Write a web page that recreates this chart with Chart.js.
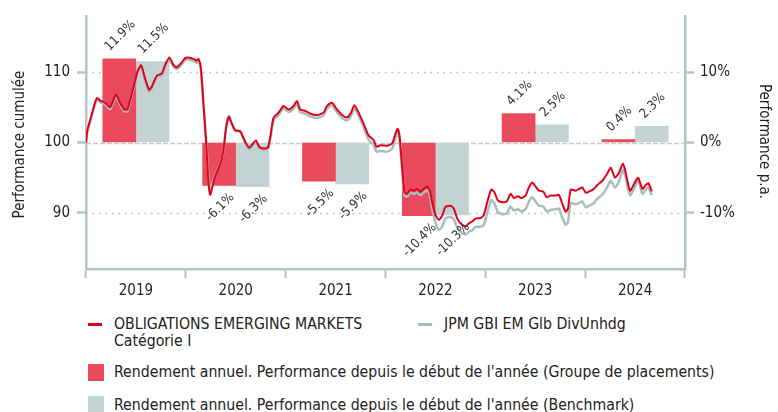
<!DOCTYPE html>
<html>
<head>
<meta charset="utf-8">
<script src="https://cdn.jsdelivr.net/npm/chart.js@4.4.0/dist/chart.umd.min.js"></script>
<style>
  body { margin: 0; background: #fff; font-family: "DejaVu Sans Condensed", "DejaVu Sans", sans-serif; color: #222; }
  #wrap { position: relative; width: 778px; height: 412px; }
  #chart { position: absolute; left: 0; top: 0; }
  .lg { position: absolute; font-size: 15.7px; line-height: 17px; white-space: nowrap; }
  .mk { position: absolute; }
</style>
</head>
<body>
<div id="wrap">
  <canvas id="chart" width="778" height="300"></canvas>

  <div class="mk" style="left:88px;top:323px;width:14px;height:2.5px;background:#e2001a"></div>
  <div class="lg" style="left:114px;top:315px">OBLIGATIONS EMERGING MARKETS<br>Catégorie I</div>
  <div class="mk" style="left:418px;top:323px;width:14px;height:2.5px;background:#a9bdbd"></div>
  <div class="lg" style="left:444px;top:315px">JPM GBI EM Glb DivUnhdg</div>

  <div class="mk" style="left:88px;top:364px;width:16px;height:17px;background:#e94b5c"></div>
  <div class="lg" style="left:114px;top:363px">Rendement annuel. Performance depuis le début de l'année (Groupe de placements)</div>
  <div class="mk" style="left:88px;top:396px;width:16px;height:16px;background:#c3d2d2"></div>
  <div class="lg" style="left:114px;top:396px">Rendement annuel. Performance depuis le début de l'année (Benchmark)</div>
</div>

<script>
// yearly bars (right axis, %)
const years = ['2019', '2020', '2021', '2022', '2023', '2024'];
const fondsYear = [11.9, -6.1, -5.5, -10.4, 4.1, 0.4];
const benchYear = [11.5, -6.3, -5.9, -10.3, 2.5, 2.3];

// cumulated performance (left axis), dates as decimal years
const dates = [
  2019.000, 2019.013, 2019.040, 2019.090, 2019.113, 2019.140, 2019.191, 2019.241, 2019.301, 2019.341,
  2019.384, 2019.414, 2019.474, 2019.515, 2019.552, 2019.592, 2019.632, 2019.659, 2019.709, 2019.759,
  2019.792, 2019.835, 2019.876, 2019.910, 2019.960, 2019.993, 2020.026, 2020.076, 2020.110, 2020.126,
  2020.150, 2020.177, 2020.204, 2020.227, 2020.244, 2020.261, 2020.294, 2020.344, 2020.377, 2020.404,
  2020.431, 2020.461, 2020.494, 2020.545, 2020.595, 2020.635, 2020.672, 2020.702, 2020.735, 2020.778,
  2020.822, 2020.846, 2020.879, 2020.929, 2020.979, 2021.029, 2021.079, 2021.113, 2021.146, 2021.197,
  2021.247, 2021.314, 2021.380, 2021.414, 2021.464, 2021.514, 2021.565, 2021.615, 2021.655, 2021.688,
  2021.731, 2021.781, 2021.831, 2021.882, 2021.909, 2021.949, 2022.016, 2022.066, 2022.099, 2022.122,
  2022.142, 2022.166, 2022.190, 2022.217, 2022.250, 2022.283, 2022.317, 2022.350, 2022.383, 2022.417,
  2022.443, 2022.467, 2022.500, 2022.534, 2022.568, 2022.601, 2022.651, 2022.684, 2022.718, 2022.751,
  2022.801, 2022.835, 2022.869, 2022.902, 2022.952, 2022.985, 2023.019, 2023.059, 2023.092, 2023.125,
  2023.169, 2023.213, 2023.253, 2023.286, 2023.326, 2023.360, 2023.403, 2023.436, 2023.470, 2023.503,
  2023.537, 2023.581, 2023.614, 2023.654, 2023.704, 2023.737, 2023.771, 2023.804, 2023.828, 2023.855,
  2023.905, 2023.938, 2023.972, 2024.005, 2024.038, 2024.088, 2024.122, 2024.172, 2024.216, 2024.256,
  2024.299, 2024.339, 2024.379, 2024.406, 2024.449, 2024.489, 2024.530, 2024.574, 2024.607, 2024.634,
  2024.667
];
const fondsCum = [
  100.0, 101.7, 103.1, 105.65, 106.35, 106.0, 105.65, 105.0, 106.8, 105.65,
  104.7, 104.7, 107.75, 110.05, 111.0, 109.1, 107.5, 107.95, 109.5, 109.8,
  111.0, 112.1, 111.0, 110.7, 111.4, 112.0, 112.1, 111.9, 111.65, 111.9,
  110.7, 105.4, 99.85, 94.3, 92.55, 93.4, 95.2, 96.85, 98.9, 102.2,
  103.65, 102.65, 101.7, 101.6, 100.1, 99.25, 99.85, 100.3, 99.4, 99.15,
  99.3, 100.8, 103.55, 104.25, 105.2, 104.7, 105.2, 105.9, 104.7, 104.5,
  104.1, 103.9, 104.25, 105.2, 105.65, 104.7, 103.9, 103.55, 104.25, 105.3,
  104.25, 102.65, 101.0, 100.3, 99.4, 99.6, 99.55, 99.85, 101.25, 101.95,
  100.8, 96.6, 92.9, 92.7, 93.3, 93.15, 93.4, 93.0, 93.4, 93.75,
  93.15, 91.5, 89.7, 89.0, 89.6, 90.85, 91.0, 90.6, 89.2, 88.5,
  88.05, 88.5, 88.75, 89.2, 89.25, 89.7, 91.5, 93.3, 92.9, 91.75,
  91.5, 91.6, 92.7, 92.1, 92.35, 92.1, 92.45, 93.6, 94.3, 93.75,
  93.15, 93.0, 92.2, 92.45, 92.45, 92.55, 91.3, 90.15, 90.6, 93.3,
  93.15, 93.4, 93.6, 92.85, 93.0, 93.4, 93.95, 94.55, 95.45, 96.4,
  95.0, 95.7, 97.0, 95.7, 93.15, 94.05, 95.0, 93.4, 93.95, 94.2,
  93.05
];
const benchCum = [
  100.0, 101.5, 102.9, 105.4, 106.1, 105.75, 105.4, 104.75, 106.55, 105.4,
  104.45, 104.45, 107.5, 109.8, 110.75, 108.85, 107.25, 107.7, 109.25, 109.55,
  110.75, 111.85, 110.75, 110.45, 111.15, 111.75, 111.8, 111.6, 111.35, 111.6,
  110.4, 105.3, 100.2, 95.0, 93.5, 94.0, 95.4, 96.9, 98.8, 102.3,
  103.8, 102.7, 101.8, 101.5, 99.9, 99.05, 99.65, 100.1, 99.2, 98.95,
  99.1, 100.5, 103.2, 103.9, 104.85, 104.35, 104.8, 105.5, 104.3, 104.1,
  103.7, 103.5, 103.85, 104.8, 105.25, 104.3, 103.5, 103.15, 103.8, 104.85,
  103.8, 102.15, 100.4, 99.6, 98.7, 98.8, 98.7, 99.1, 100.6, 101.4,
  100.2, 96.1, 92.5, 92.3, 92.9, 92.7, 92.9, 92.5, 92.9, 93.2,
  92.5, 90.6, 88.6, 87.6, 88.0, 89.2, 89.4, 89.1, 87.9, 87.3,
  86.9, 87.3, 87.5, 88.0, 88.0, 88.3, 90.0, 91.8, 91.3, 90.1,
  89.8, 89.9, 90.9, 90.3, 90.5, 90.2, 90.5, 91.6, 92.2, 91.6,
  91.0, 90.9, 90.2, 90.4, 90.5, 90.6, 89.3, 88.3, 88.7, 91.4,
  91.2, 91.4, 91.6, 90.8, 91.0, 91.4, 92.0, 92.6, 93.5, 94.6,
  93.6, 94.5, 96.1, 95.0, 92.5, 93.4, 94.6, 92.7, 93.3, 93.6,
  92.5
];

const leftTicks = [90, 100, 110];
const rightTicks = [-10, 0, 10];

const FONT = '"DejaVu Sans Condensed", "DejaVu Sans", sans-serif';
const AXIS = '#b3c4c4';
const BAR_W = 33;

function toPoints(xs, ys) {
  return xs.map((x, i) => ({ x: x, y: ys[i] }));
}

// bars sit side by side inside each year: fund in the first third, benchmark in the second
function toBars(vals, slot) {
  return years.map((yr, i) => ({ x: Number(yr) + slot / 3, y: vals[i] }));
}

// dotted grid lines at 90 / 110, light dashed at 100
const gridPlugin = {
  id: 'gridLines',
  beforeDatasetsDraw(chart) {
    const c = chart.ctx, a = chart.chartArea, y = chart.scales.y;
    c.save();
    leftTicks.forEach(v => {
      const py = Math.round(y.getPixelForValue(v)) + 0.5;
      c.beginPath();
      if (v === 100) {
        c.strokeStyle = '#c9c9c9';
        c.lineWidth = 1.5;
        c.setLineDash([5, 2]);
      } else {
        c.strokeStyle = '#a9bcbc';
        c.lineWidth = 1.5;
        c.setLineDash([1.5, 5]);
      }
      c.moveTo(a.left, py);
      c.lineTo(a.right, py);
      c.stroke();
    });
    c.restore();
  }
};

// rotated value labels on the bars
const barLabels = {
  id: 'barLabels',
  afterDatasetsDraw(chart) {
    const c = chart.ctx;
    c.save();
    c.font = '13px ' + FONT;
    c.fillStyle = '#333';
    c.textAlign = 'center';
    c.textBaseline = 'middle';
    [0, 1].forEach(di => {
      const meta = chart.getDatasetMeta(di);
      const vals = di === 0 ? fondsYear : benchYear;
      meta.data.forEach((bar, i) => {
        const txt = vals[i].toFixed(1) + '%';
        const w = c.measureText(txt).width;
        const d = w * 0.354 + 10;
        const py = vals[i] >= 0 ? bar.y - d : bar.y + d;
        c.save();
        c.translate(bar.x + 1, py);
        c.rotate(-Math.PI / 4);
        c.fillText(txt, 0, 0);
        c.restore();
      });
    });
    c.restore();
  }
};

// axis titles
const titles = {
  id: 'titles',
  afterDraw(chart) {
    const c = chart.ctx, a = chart.chartArea;
    const cy = (a.top + a.bottom) / 2 + 2;
    c.save();
    c.font = '15px ' + FONT;
    c.fillStyle = '#222';
    c.textAlign = 'center';
    c.textBaseline = 'middle';
    c.translate(20, cy);
    c.rotate(-Math.PI / 2);
    c.fillText('Performance cumulée', 0, 0);
    c.restore();
    c.save();
    c.font = '15px ' + FONT;
    c.fillStyle = '#222';
    c.textAlign = 'center';
    c.textBaseline = 'middle';
    c.translate(764, cy - 3);
    c.rotate(Math.PI / 2);
    c.fillText('Performance p.a.', 0, 0);
    c.restore();
  }
};

new Chart(document.getElementById('chart'), {
  type: 'line',
  data: {
    labels: years,
    datasets: [
      {
        type: 'bar',
        label: 'Groupe de placements',
        data: toBars(fondsYear, 1),
        backgroundColor: '#e94b5c',
        xAxisID: 'xl',
        yAxisID: 'y2',
        grouped: false,
        barThickness: BAR_W,
        order: 2
      },
      {
        type: 'bar',
        label: 'Benchmark',
        data: toBars(benchYear, 2),
        backgroundColor: '#c3d2d2',
        xAxisID: 'xl',
        yAxisID: 'y2',
        grouped: false,
        barThickness: BAR_W,
        order: 2
      },
      {
        type: 'line',
        label: 'JPM GBI EM Glb DivUnhdg',
        data: toPoints(dates, benchCum),
        borderColor: '#a9bdbd',
        borderWidth: 2.5,
        pointRadius: 0,
        tension: 0.2,
        xAxisID: 'xl',
        yAxisID: 'y',
        order: 1
      },
      {
        type: 'line',
        label: 'OBLIGATIONS EMERGING MARKETS Catégorie I',
        data: toPoints(dates, fondsCum),
        borderColor: '#e2001a',
        borderWidth: 2,
        pointRadius: 0,
        tension: 0.2,
        xAxisID: 'xl',
        yAxisID: 'y',
        order: 0
      }
    ]
  },
  options: {
    responsive: false,
    animation: false,
    layout: { padding: { top: 9, left: 0, right: 0, bottom: 0 } },
    plugins: { legend: { display: false }, tooltip: { enabled: false } },
    scales: {
      x: {
        type: 'category',
        position: 'bottom',
        offset: true,
        grid: { display: true, offset: true, drawOnChartArea: false, tickLength: 9, tickColor: AXIS, tickWidth: 2, color: AXIS },
        border: { color: AXIS, width: 2.5 },
        ticks: { color: '#222', font: { family: FONT, size: 15 }, padding: 4, maxRotation: 0 },
        afterFit(s) { s.height = 31; }
      },
      xl: {
        type: 'linear',
        display: false,
        offset: false,
        min: 2019,
        max: 2025
      },
      y: {
        position: 'left',
        min: 82,
        max: 118,
        afterBuildTicks(s) { s.ticks = leftTicks.map(v => ({ value: v })); },
        grid: { drawOnChartArea: false, tickLength: 9, tickColor: AXIS, tickWidth: 2.5 },
        border: { color: AXIS, width: 2.5 },
        ticks: { color: '#222', font: { family: FONT, size: 15 }, padding: 7 },
        afterFit(s) { s.width = 86; }
      },
      y2: {
        position: 'right',
        min: -18,
        max: 18,
        afterBuildTicks(s) { s.ticks = rightTicks.map(v => ({ value: v })); },
        grid: { drawOnChartArea: false, tickLength: 9, tickColor: AXIS, tickWidth: 2.5 },
        border: { color: AXIS, width: 2.5 },
        ticks: { color: '#222', font: { family: FONT, size: 15 }, padding: 6, callback: v => v + '%' },
        afterFit(s) { s.width = 93; }
      }
    }
  },
  plugins: [gridPlugin, barLabels, titles]
});
</script>
</body>
</html>
